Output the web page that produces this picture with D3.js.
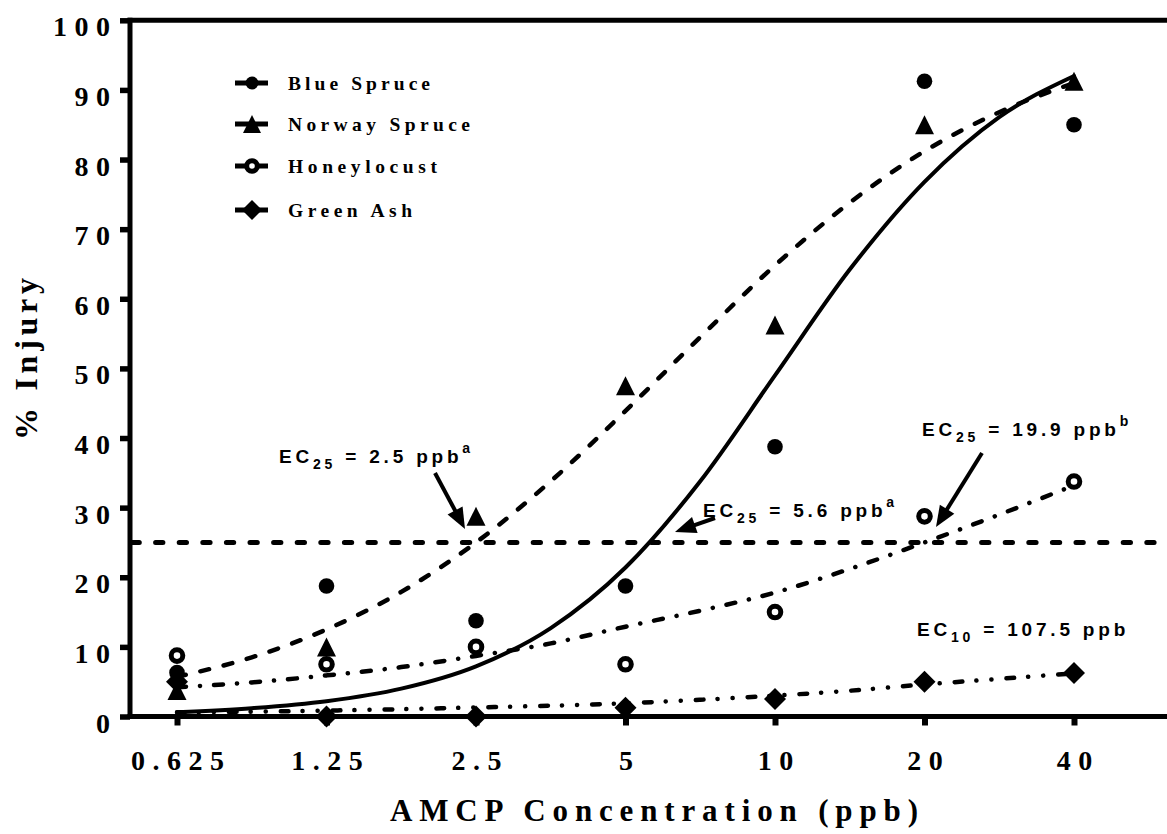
<!DOCTYPE html>
<html>
<head>
<meta charset="utf-8">
<script src="https://cdn.jsdelivr.net/npm/d3@7"></script>
<style>
  html, body { margin: 0; padding: 0; background: #fff; }
  svg { display: block; }
</style>
</head>
<body>
<svg id="chart" width="1167" height="834"></svg>
<script>
// AMCP concentrations tested (ppb), two-fold series
const concentrations = [0.625, 1.25, 2.5, 5, 10, 20, 40];
const concentrationLabels = ["0.625", "1.25", "2.5", "5", "10", "20", "40"];
const injuryTicks = [0, 10, 20, 30, 40, 50, 60, 70, 80, 90, 100];

// Observed % injury per species
const blueSpruce   = [6.3, 18.75, 13.75, 18.75, 38.75, 91.25, 85];
const norwaySpruce = [3.75, 10, 28.75, 47.5, 56.25, 85, 91.25];
const honeylocust  = [8.75, 7.5, 10, 7.5, 15, 28.75, 33.75];
const greenAsh     = [5, 0, 0, 1.25, 2.5, 5, 6.25];

// Fitted dose-response curves, sampled every half doubling
const fitConcentrations = [0.625, 0.884, 1.25, 1.768, 2.5, 3.536, 5, 7.071, 10, 14.14, 20, 28.28, 40];
const blueSpruceFit   = [0.6, 1.2, 2.2, 4.0, 7.2, 12.7, 21.4, 33.8, 49.0, 64.2, 76.8, 86.1, 92.0];
const norwaySpruceFit = [5.7, 8.5, 12.5, 17.9, 25.0, 33.8, 43.9, 54.5, 64.8, 73.8, 81.2, 86.8, 91.0];
const honeylocustFit  = [4.2, 4.9, 5.9, 7.1, 8.7, 10.5, 12.9, 15.2, 17.8, 21.2, 25.0, 29.0, 33.2];
const greenAshFit     = [0.6, 0.7, 0.85, 1.05, 1.3, 1.55, 1.9, 2.4, 3.0, 3.7, 4.6, 5.4, 6.2];

const speciesNames = ["Blue Spruce", "Norway Spruce", "Honeylocust", "Green Ash"];
const ecThreshold = 25;

const svg = d3.select("#chart");
const W = 1167;

const x = d3.scaleLog().base(2).domain([0.625, 40]).range([177, 1074]);
const y = d3.scaleLinear().domain([0, 100]).range([716.5, 20.3]);

const serif = "'Liberation Serif', 'Times New Roman', serif";
const sans = "'Liberation Sans', Arial, sans-serif";

// ---- fitted curves ----
const curveLine = d3.line()
  .x(d => x(d[0]))
  .y(d => y(d[1]))
  .curve(d3.curveMonotoneX);

const fits = [
  { v: blueSpruceFit,   dash: null,                    w: 4 },
  { v: norwaySpruceFit, dash: "9 15",                  w: 4.5 },
  { v: honeylocustFit,  dash: "9 14 0.1 14",           w: 4.5 },
  { v: greenAshFit,     dash: "7.7 14 0.1 15 0.1 15",  w: 4.5 }
];
const gCurves = svg.append("g");
fits.forEach(f => {
  gCurves.append("path")
    .attr("d", curveLine(fitConcentrations.map((c, i) => [c, f.v[i]])))
    .attr("fill", "none")
    .attr("stroke", "#000")
    .attr("stroke-width", f.w)
    .attr("stroke-linecap", "round")
    .attr("stroke-dasharray", f.dash);
});

// ---- EC25 reference line ----
svg.append("line")
  .attr("x1", 132).attr("x2", W)
  .attr("y1", y(ecThreshold)).attr("y2", y(ecThreshold))
  .attr("stroke", "#000")
  .attr("stroke-width", 5)
  .attr("stroke-linecap", "round")
  .attr("stroke-dasharray", "7.3 16.3");

// ---- frame and axes ----
const frame = svg.append("g").attr("stroke", "#000").attr("stroke-width", 5);
frame.append("line").attr("x1", 127.5).attr("x2", W).attr("y1", y(100)).attr("y2", y(100));
frame.append("line").attr("x1", 130).attr("x2", 130).attr("y1", y(100) - 2.5).attr("y2", y(0) + 2.5);
frame.append("line").attr("x1", 127.5).attr("x2", W).attr("y1", y(0)).attr("y2", y(0));

const tickFontSize = 28, tickSpacing = 7.5;

const yAxis = d3.axisLeft(y).tickValues(injuryTicks).tickSize(10).tickPadding(10).tickFormat(d3.format("d"));
const gy = svg.append("g").attr("transform", "translate(130,0)").call(yAxis);
gy.select(".domain").remove();
gy.selectAll(".tick line").attr("stroke", "#000").attr("stroke-width", 5.5);
gy.selectAll(".tick text")
  .attr("x", -20 + tickSpacing)
  .attr("dy", 0)
  .attr("y", 15.5)
  .attr("fill", "#000")
  .style("font-family", serif)
  .style("font-weight", "bold")
  .style("font-size", tickFontSize + "px")
  .style("letter-spacing", tickSpacing + "px");

const xAxis = d3.axisBottom(x).tickValues(concentrations).tickSize(9)
  .tickFormat((d, i) => concentrationLabels[i]);
const gx = svg.append("g").attr("transform", `translate(0,${y(0)})`).call(xAxis);
gx.select(".domain").remove();
gx.selectAll(".tick line").attr("stroke", "#000").attr("stroke-width", 6);
gx.selectAll(".tick text")
  .attr("y", 770 - y(0))
  .attr("dy", 0)
  .attr("dx", tickSpacing / 2)
  .attr("fill", "#000")
  .style("font-family", serif)
  .style("font-weight", "bold")
  .style("font-size", tickFontSize + "px")
  .style("letter-spacing", tickSpacing + "px");

// axis titles
svg.append("text")
  .attr("x", 390).attr("y", 821)
  .attr("textLength", 528).attr("lengthAdjust", "spacing")
  .style("font-family", serif).style("font-weight", "bold").style("font-size", "31px")
  .text("AMCP Concentration (ppb)");

svg.append("text")
  .attr("transform", "translate(37,440) rotate(-90)")
  .attr("x", 0).attr("y", 0)
  .attr("textLength", 162).attr("lengthAdjust", "spacing")
  .style("font-family", serif).style("font-weight", "bold").style("font-size", "32px")
  .text("% Injury");

// ---- markers ----
const markers = {
  circle: (g, r) => g.append("circle").attr("r", r).attr("fill", "#000"),
  triangle: (g, s) => g.append("path").attr("d", `M0,${-s}L${s},${s}L${-s},${s}Z`).attr("fill", "#000"),
  ring: (g, r) => g.append("circle").attr("r", r).attr("fill", "#fff").attr("stroke", "#000").attr("stroke-width", 5),
  diamond: (g, s) => g.append("path").attr("d", `M0,${-s}L${s},0L0,${s}L${-s},0Z`).attr("fill", "#000")
};
const series = [
  { v: blueSpruce,   m: "circle",   s: 7.8,  ls: 6.5 },
  { v: norwaySpruce, m: "triangle", s: 9.5,  ls: 9 },
  { v: honeylocust,  m: "ring",     s: 5.8,  ls: 5.3 },
  { v: greenAsh,     m: "diamond",  s: 11,   ls: 10 }
];
const gPts = svg.append("g");
series.forEach(sr => {
  sr.v.forEach((val, i) => {
    const g = gPts.append("g").attr("transform", `translate(${x(concentrations[i])},${y(val)})`);
    markers[sr.m](g, sr.s);
  });
});

// ---- legend ----
const legend = svg.append("g");
const legendRows = [83, 124, 166, 210];
const legendWidths = [142, 182, 149, 124];
series.forEach((sr, i) => {
  const row = legend.append("g").attr("transform", `translate(252,${legendRows[i]})`);
  row.append("line").attr("x1", -17).attr("x2", 16).attr("y1", 0).attr("y2", 0)
    .attr("stroke", "#000").attr("stroke-width", 5);
  markers[sr.m](row, sr.ls);
  legend.append("text")
    .attr("x", 288).attr("y", legendRows[i] + 6.5)
    .attr("textLength", legendWidths[i]).attr("lengthAdjust", "spacing")
    .style("font-family", serif).style("font-weight", "bold").style("font-size", "19.5px")
    .text(speciesNames[i]);
});

// ---- EC annotations ----
function ecLabel(px, py, sub, value, sup) {
  const t = svg.append("text")
    .attr("x", px).attr("y", py)
    .attr("fill", "#000")
    .style("font-family", sans).style("font-weight", "bold").style("font-size", "19px")
    .style("letter-spacing", "3.8px");
  t.append("tspan").text("EC");
  t.append("tspan").attr("dy", 5.7).style("font-size", "14px").text(sub);
  t.append("tspan").attr("dy", -5.7).text(" = " + value + " ppb");
  if (sup) t.append("tspan").attr("dy", -10).style("font-size", "14px").text(sup);
}
function arrow(x1, y1, x2, y2) {
  const dx = x2 - x1, dy = y2 - y1, len = Math.hypot(dx, dy);
  const ux = dx / len, uy = dy / len, L = 21, hw = 8.5;
  const bx = x2 - ux * L, by = y2 - uy * L;
  svg.append("line")
    .attr("x1", x1).attr("y1", y1).attr("x2", bx + ux * 4).attr("y2", by + uy * 4)
    .attr("stroke", "#000").attr("stroke-width", 4);
  svg.append("path")
    .attr("d", `M${x2},${y2}L${bx - uy * hw},${by + ux * hw}L${bx + uy * hw},${by - ux * hw}Z`)
    .attr("fill", "#000");
}

ecLabel(279, 463, "25", "2.5", "a");
arrow(435, 473, 465, 529);

ecLabel(703, 517, "25", "5.6", "a");
arrow(715, 518, 675, 532);

ecLabel(922, 436, "25", "19.9", "b");
arrow(982, 453, 936, 527);

ecLabel(917, 636, "10", "107.5", null);
</script>
</body>
</html>
